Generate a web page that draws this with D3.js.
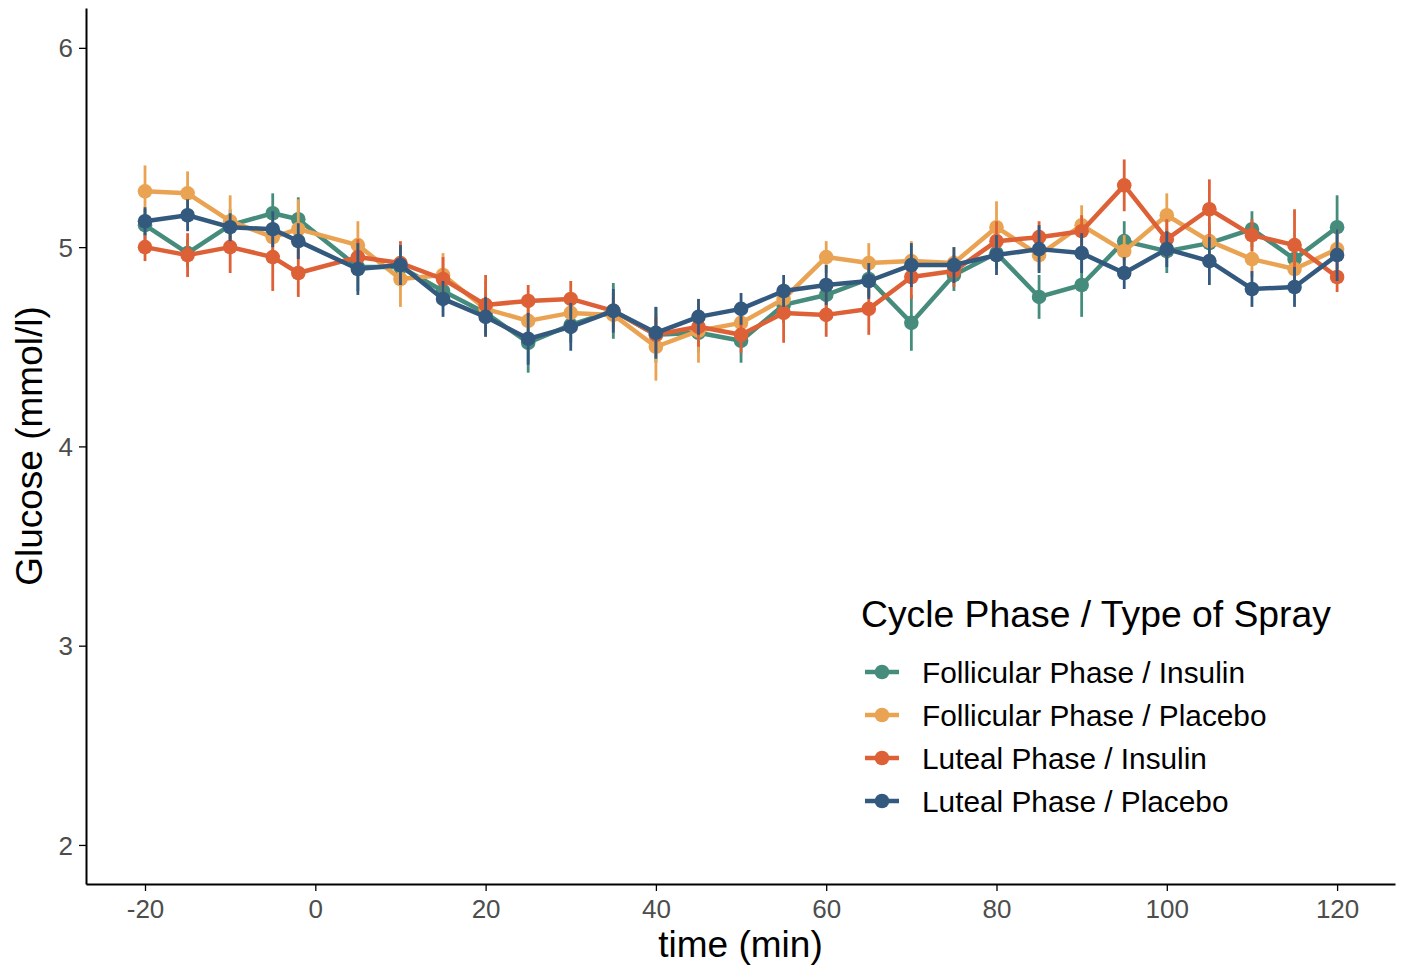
<!DOCTYPE html>
<html lang="en">
<head>
<meta charset="utf-8">
<title>Glucose by cycle phase</title>
<script src="https://d3js.org/d3.v7.min.js"></script>
<style>
    body, html { margin: 0; padding: 0; background: white; }
    svg { display: block; font-family: "Liberation Sans", Arial, sans-serif; }
    .axis text { fill: #4d4d4d; font-size: 26px; }
    .axis path, .axis line { stroke: black; }
</style>
</head>
<body>
<svg id="chart" width="1403" height="966"></svg>
<script>
// time points (min)
var times = [-20, -15, -10, -5, -2, 5, 10, 15, 20, 25, 30, 35, 40, 45, 50, 55, 60, 65, 70, 75, 80, 85, 90, 95, 100, 105, 110, 115, 120];

var seriesNames = ["Follicular Phase / Insulin", "Follicular Phase / Placebo", "Luteal Phase / Insulin", "Luteal Phase / Placebo"];
var seriesColors = ["#468C7C", "#E9A352", "#DD6036", "#34597E"];

// mean glucose (mmol/l)
var follInsulin = [5.11, 4.97, 5.11, 5.17, 5.14, 4.90, 4.90, 4.78, 4.67, 4.52, 4.61, 4.68, 4.56, 4.57, 4.53, 4.71, 4.76, 4.84, 4.62, 4.86, 4.97, 4.75, 4.81, 5.03, 4.98, 5.02, 5.09, 4.94, 5.10];
var follPlacebo = [5.28, 5.27, 5.13, 5.05, 5.09, 5.01, 4.84, 4.86, 4.69, 4.63, 4.67, 4.66, 4.50, 4.58, 4.62, 4.74, 4.95, 4.92, 4.93, 4.92, 5.10, 4.96, 5.11, 4.98, 5.16, 5.03, 4.94, 4.89, 4.99];
var lutInsulin = [5.00, 4.96, 5.00, 4.95, 4.87, 4.95, 4.92, 4.84, 4.71, 4.73, 4.74, 4.68, 4.56, 4.60, 4.56, 4.67, 4.66, 4.69, 4.85, 4.88, 5.03, 5.05, 5.08, 5.31, 5.04, 5.19, 5.06, 5.01, 4.85];
var lutPlacebo = [5.13, 5.16, 5.10, 5.09, 5.03, 4.89, 4.91, 4.74, 4.65, 4.54, 4.60, 4.68, 4.57, 4.65, 4.69, 4.78, 4.81, 4.83, 4.91, 4.91, 4.96, 4.99, 4.97, 4.87, 4.99, 4.93, 4.79, 4.80, 4.96];

// standard errors
var follInsulinErr = [0.08, 0.07, 0.08, 0.10, 0.11, 0.12, 0.10, 0.08, 0.10, 0.15, 0.09, 0.14, 0.14, 0.10, 0.11, 0.09, 0.08, 0.09, 0.14, 0.08, 0.08, 0.11, 0.16, 0.10, 0.11, 0.08, 0.09, 0.07, 0.16];
var follPlaceboErr = [0.13, 0.11, 0.13, 0.10, 0.15, 0.12, 0.14, 0.11, 0.14, 0.10, 0.09, 0.09, 0.17, 0.16, 0.10, 0.08, 0.08, 0.10, 0.10, 0.08, 0.13, 0.08, 0.10, 0.08, 0.11, 0.09, 0.09, 0.08, 0.10];
var lutInsulinErr = [0.07, 0.11, 0.13, 0.17, 0.12, 0.09, 0.11, 0.11, 0.15, 0.08, 0.09, 0.09, 0.09, 0.10, 0.09, 0.15, 0.11, 0.13, 0.11, 0.08, 0.10, 0.08, 0.08, 0.13, 0.10, 0.15, 0.08, 0.18, 0.075];
var lutPlaceboErr = [0.07, 0.08, 0.07, 0.09, 0.09, 0.13, 0.10, 0.09, 0.10, 0.13, 0.12, 0.11, 0.13, 0.09, 0.08, 0.08, 0.10, 0.09, 0.11, 0.09, 0.10, 0.12, 0.10, 0.08, 0.09, 0.12, 0.09, 0.10, 0.13];

var yTicks = [2, 3, 4, 5, 6];
var xTicks = [-20, 0, 20, 40, 60, 80, 100, 120];

var means = [follInsulin, follPlacebo, lutInsulin, lutPlacebo];
var errs = [follInsulinErr, follPlaceboErr, lutInsulinErr, lutPlaceboErr];

var svg = d3.select("#chart");

var plotLeft = 86, plotRight = 1395, plotTop = 8, plotBottom = 884;

var x = d3.scaleLinear().domain([-26.93, 126.8]).range([plotLeft, plotRight]);
var y = d3.scaleLinear().domain([1.804, 6.2]).range([plotBottom, plotTop]);

// axes
var xAxis = svg.append("g")
    .attr("class", "axis")
    .attr("transform", "translate(0," + plotBottom + ")")
    .call(d3.axisBottom(x).tickValues(xTicks).tickFormat(function(d) { return String(d); })
        .tickSize(7).tickPadding(5).tickSizeOuter(0));
var yAxis = svg.append("g")
    .attr("class", "axis")
    .attr("transform", "translate(" + plotLeft + ",0)")
    .call(d3.axisLeft(y).tickValues(yTicks).tickFormat(function(d) { return String(d); })
        .tickSize(7).tickPadding(6).tickSizeOuter(0));

svg.selectAll(".axis .domain").attr("stroke-width", 2);
svg.selectAll(".axis line").attr("stroke-width", 1.3);
xAxis.selectAll("text").attr("dy", "0.85em");
yAxis.selectAll("text").attr("dy", "0.35em");

// axis titles
svg.append("text")
    .attr("x", (plotLeft + plotRight) / 2)
    .attr("y", 957)
    .attr("text-anchor", "middle")
    .style("font-size", "37px")
    .text("time (min)");

svg.append("text")
    .attr("transform", "translate(42," + ((plotTop + plotBottom) / 2) + ") rotate(-90)")
    .attr("text-anchor", "middle")
    .style("font-size", "37px")
    .text("Glucose (mmol/l)");

// series
var line = d3.line()
    .x(function(d) { return x(d.t); })
    .y(function(d) { return y(d.v); });

means.forEach(function(vals, i) {
    var pts = times.map(function(t, j) {
        return { t: t, v: vals[j], e: errs[i][j] };
    });
    var g = svg.append("g").attr("class", "series");

    g.selectAll("line.err")
        .data(pts)
        .enter().append("line")
        .attr("class", "err")
        .attr("x1", function(d) { return x(d.t); })
        .attr("x2", function(d) { return x(d.t); })
        .attr("y1", function(d) { return y(d.v - d.e); })
        .attr("y2", function(d) { return y(d.v + d.e); })
        .attr("stroke", seriesColors[i])
        .attr("stroke-width", 2.8);

    g.append("path")
        .datum(pts)
        .attr("d", line)
        .attr("fill", "none")
        .attr("stroke", seriesColors[i])
        .attr("stroke-width", 4.5)
        .attr("stroke-linejoin", "round");

    g.selectAll("circle")
        .data(pts)
        .enter().append("circle")
        .attr("cx", function(d) { return x(d.t); })
        .attr("cy", function(d) { return y(d.v); })
        .attr("r", 7.3)
        .attr("fill", seriesColors[i]);
});

// legend
var legend = svg.append("g").attr("transform", "translate(861,0)");

legend.append("text")
    .attr("x", 0)
    .attr("y", 627)
    .style("font-size", "37.3px")
    .text("Cycle Phase / Type of Spray");

var items = legend.selectAll("g.item")
    .data(seriesNames)
    .enter().append("g")
    .attr("class", "item")
    .attr("transform", function(d, i) { return "translate(0," + (672 + i * 43) + ")"; });

items.append("line")
    .attr("x1", 4).attr("x2", 38)
    .attr("stroke", function(d, i) { return seriesColors[i]; })
    .attr("stroke-width", 4.5);
items.append("circle")
    .attr("cx", 21).attr("r", 7.3)
    .attr("fill", function(d, i) { return seriesColors[i]; });
items.append("text")
    .attr("x", 61)
    .attr("dy", "0.36em")
    .style("font-size", "29.8px")
    .text(function(d) { return d; });
</script>
</body>
</html>
